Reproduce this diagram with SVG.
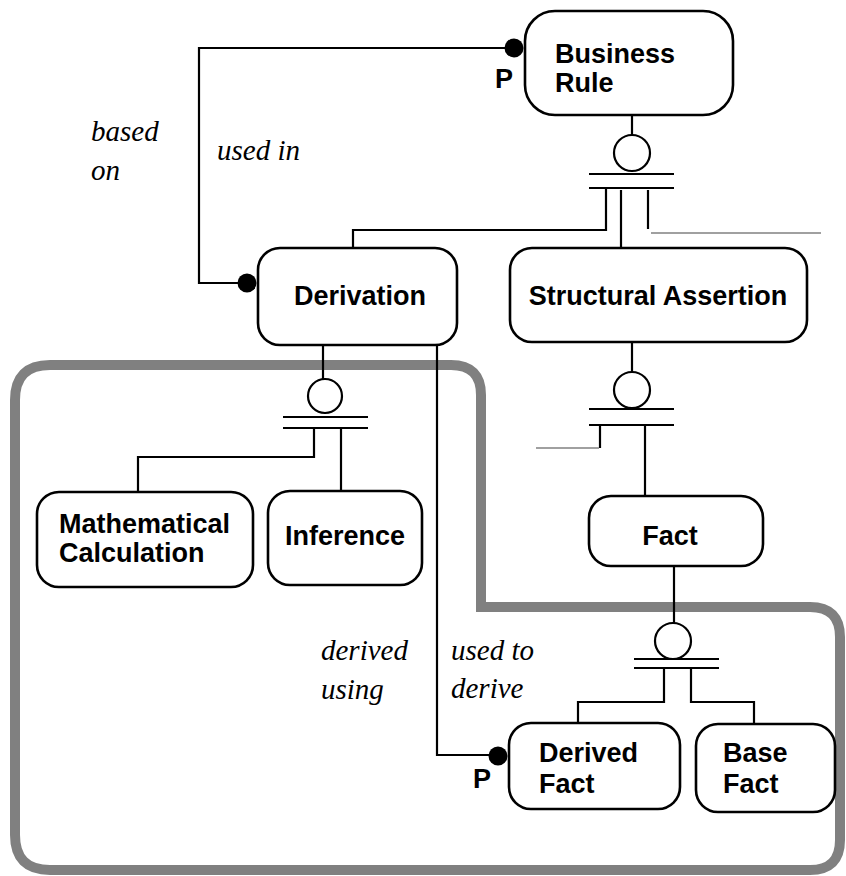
<svg xmlns="http://www.w3.org/2000/svg" width="846" height="876" viewBox="0 0 846 876">
<style>
.node rect{fill:#fff;stroke:#000;stroke-width:2.6}
.lbl{font-family:"Liberation Sans",Arial,sans-serif;font-weight:bold;font-size:27px;fill:#000}
.role{font-family:"Liberation Serif","Times New Roman",serif;font-style:italic;font-size:29px;fill:#000}
.ln{fill:none;stroke:#000;stroke-width:2.2}
.gl{fill:none;stroke:#a0a0a0;stroke-width:2.2}
.circ{fill:#fff;stroke:#000;stroke-width:2.2}
.dot{fill:#000}
.frame{fill:none;stroke:#808080;stroke-width:10}
</style>
<rect width="846" height="876" fill="#fff"/>
<path class="frame" d="M 15 400 Q 15 365 50 365 L 451 365 Q 481 365 481 395 L 481 607 L 810 607 Q 840 607 840 637 L 840 840 Q 840 870 810 870 L 50 870 Q 15 870 15 835 Z"/>
<g id="connectors">
<path class="ln" d="M 514 48 L 199 48 L 199 283 L 246 283"/>
<circle class="dot" cx="514" cy="48" r="9.5"/>
<circle class="dot" cx="247" cy="283" r="9.5"/>
<path class="ln" d="M 437 345 L 437 755 L 497 755"/>
<circle class="dot" cx="498" cy="756" r="9.5"/>
<path class="ln" d="M 632 115 L 632 135"/>
<circle class="circ" cx="632" cy="153" r="18"/>
<path class="ln" d="M 589 174 L 674 174 M 589 188 L 674 188"/>
<path class="ln" d="M 606 188 L 606 230 L 353 230 L 353 248"/>
<path class="ln" d="M 621 190 L 621 248"/>
<path class="ln" d="M 648 190 L 648 229"/>
<path class="gl" d="M 651 233 L 821 233"/>
<path class="ln" d="M 632 342 L 632 372"/>
<circle class="circ" cx="632" cy="390" r="18"/>
<path class="ln" d="M 589 409 L 674 409 M 589 425 L 674 425"/>
<path class="ln" d="M 600 425 L 600 448"/>
<path class="gl" d="M 536 448 L 599 448"/>
<path class="ln" d="M 645 425 L 645 496"/>
<path class="ln" d="M 323 345 L 323 379"/>
<circle class="circ" cx="325" cy="396" r="17"/>
<path class="ln" d="M 283 417 L 368 417 M 283 428 L 368 428"/>
<path class="ln" d="M 314 428 L 314 457 L 138 457 L 138 492"/>
<path class="ln" d="M 341 428 L 341 491"/>
<path class="ln" d="M 674 566 L 674 623"/>
<circle class="circ" cx="673" cy="641" r="18"/>
<path class="ln" d="M 634 659 L 719 659 M 634 668 L 719 668"/>
<path class="ln" d="M 664 668 L 664 702 L 578 702 L 578 723"/>
<path class="ln" d="M 691 668 L 691 702 L 754 702 L 754 724"/>
<text class="lbl" x="495" y="88" font-size="24">P</text>
<text class="lbl" x="473" y="788" font-size="24">P</text>
<text class="role" x="91" y="141">based</text>
<text class="role" x="91" y="180">on</text>
<text class="role" x="217" y="160">used in</text>
<text class="role" x="321" y="660">derived</text>
<text class="role" x="321" y="699">using</text>
<text class="role" x="451" y="660">used to</text>
<text class="role" x="451" y="698">derive</text>
</g>
<g id="business-rule" class="node">
<rect x="525" y="11" width="208" height="104" rx="30"/>
<text class="lbl" x="555" y="63">Business</text>
<text class="lbl" x="555" y="92">Rule</text>
</g>
<g id="derivation" class="node">
<rect x="258" y="248" width="199" height="97" rx="22"/>
<text class="lbl" x="360" y="305" text-anchor="middle">Derivation</text>
</g>
<g id="structural-assertion" class="node">
<rect x="510" y="248" width="297" height="94" rx="22"/>
<text class="lbl" x="658" y="305" text-anchor="middle">Structural Assertion</text>
</g>
<g id="mathematical-calculation" class="node">
<rect x="37" y="492" width="216" height="95" rx="22"/>
<text class="lbl" x="59" y="533">Mathematical</text>
<text class="lbl" x="59" y="562">Calculation</text>
</g>
<g id="inference" class="node">
<rect x="268" y="491" width="154" height="94" rx="22"/>
<text class="lbl" x="345" y="545" text-anchor="middle">Inference</text>
</g>
<g id="fact" class="node">
<rect x="589" y="496" width="174" height="70" rx="22"/>
<text class="lbl" x="670" y="545" text-anchor="middle">Fact</text>
</g>
<g id="derived-fact" class="node">
<rect x="509" y="723" width="171" height="86" rx="22"/>
<text class="lbl" x="539" y="762">Derived</text>
<text class="lbl" x="539" y="793">Fact</text>
</g>
<g id="base-fact" class="node">
<rect x="696" y="724" width="139" height="88" rx="22"/>
<text class="lbl" x="723" y="762">Base</text>
<text class="lbl" x="723" y="793">Fact</text>
</g>
</svg>
